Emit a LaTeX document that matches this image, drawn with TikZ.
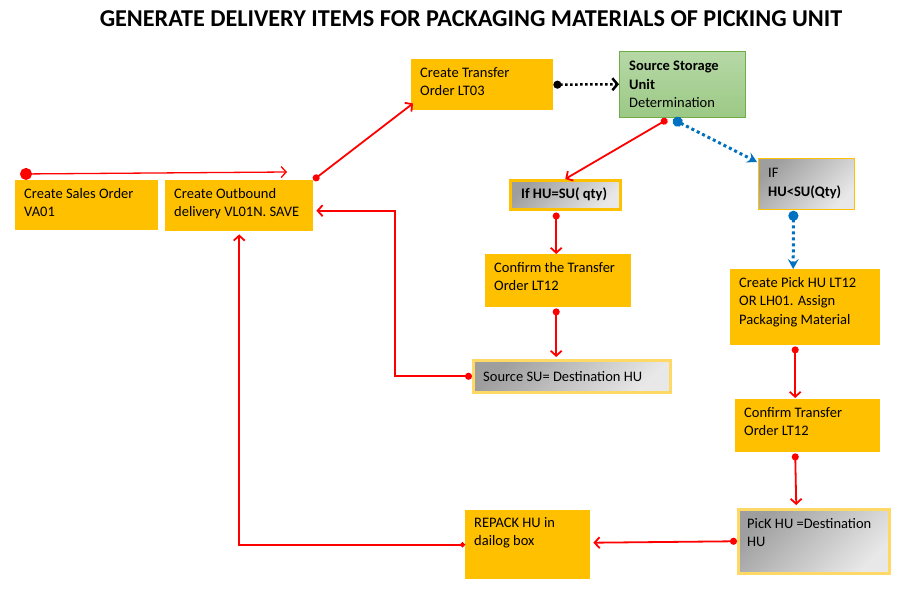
\documentclass[tikz,border=0pt]{standalone}
\usepackage{fontspec}
\setmainfont{Carlito}
\usetikzlibrary{arrows.meta,calc}
\definecolor{boxorange}{HTML}{FFC000}
\definecolor{paleorange}{HTML}{FFD966}
\definecolor{ssuedge}{HTML}{70AD47}
\definecolor{ssutop}{HTML}{B6D8A6}
\definecolor{ssubottom}{HTML}{9CC986}
\definecolor{linkblue}{HTML}{0070C0}

\begin{document}
\begin{tikzpicture}[x=1pt,y=-1pt,
        every node/.style={font=\fontsize{14.5}{18.5}\selectfont},
        stepbox/.style={anchor=north west, inner sep=0pt, fill=boxorange},
        graybox/.style={anchor=north west, inner sep=0pt, top color=black!38, bottom color=black!9, shading angle=45},
        boxtext/.style={anchor=north west, align=left, inner xsep=9pt, inner ysep=8pt},
        redlink/.style={draw=red, line width=1.8pt, {Circle[length=7pt]}-{Straight Barb[length=5pt,width=11pt]}},
        bluelink/.style={draw=linkblue, line width=3pt, dash pattern=on 3pt off 3pt, {Circle[length=10pt]}-{Stealth[length=10pt,width=11pt,inset=4pt]}},
        blacklink/.style={draw=black, line width=2.5pt, dash pattern=on 2.5pt off 2.5pt, {Circle[length=8pt]}-{Straight Barb[length=5pt,width=12pt]}}
    ]
        \useasboundingbox (0,0) rectangle (914,597);

        \node[font=\bfseries\fontsize{24.2}{28}\selectfont] (title) at (471,19) {GENERATE DELIVERY ITEMS FOR PACKAGING MATERIALS OF PICKING UNIT};

        \node[stepbox, minimum width=143pt, minimum height=50pt, label={[boxtext]north west:{Create Sales Order\\VA01}}] (sales) at (15,180) {};
        \node[stepbox, minimum width=148pt, minimum height=51pt, label={[boxtext]north west:{Create Outbound\\delivery VL01N. SAVE}}] (outb) at (165,180) {};
        \node[stepbox, minimum width=142pt, minimum height=51pt, label={[boxtext]north west:{Create Transfer\\Order LT03}}] (xfer) at (411,59) {};

        \node[anchor=north west, inner sep=0pt, draw=ssuedge, top color=ssutop, bottom color=ssubottom, minimum width=126pt, minimum height=66pt,
            label={[boxtext, inner xsep=10pt, inner ysep=10pt]north west:{\textbf{Source Storage}\\\textbf{Unit}\\Determination}}] (ssu) at (619,51) {};

        \node[graybox, draw=boxorange, line width=2.5pt, minimum width=110pt, minimum height=29pt, label={[boxtext, anchor=west, inner xsep=12pt]west:{\textbf{If HU=SU( qty)}}}] (hueq) at (509,179) {};
        \node[graybox, draw=boxorange, line width=0.8pt, minimum width=96pt, minimum height=51pt, label={[boxtext, inner xsep=10pt, inner ysep=10pt]north west:{IF\\\textbf{HU<SU(Qty)}}}] (hult) at (758,158) {};

        \node[stepbox, minimum width=146pt, minimum height=53pt, label={[boxtext]north west:{Confirm the Transfer\\Order LT12}}] (conf1) at (485,254) {};
        \node[graybox, draw=paleorange, line width=2.5pt, minimum width=197pt, minimum height=32pt, label={[boxtext, anchor=west, inner xsep=11pt]west:{Source SU= Destination HU}}] (srcsu) at (472,359) {};

        \node[stepbox, minimum width=150pt, minimum height=76pt, label={[boxtext]north west:{Create Pick HU LT12\\OR LH01. Assign\\Packaging Material}}] (pick) at (730,269) {};
        \node[stepbox, minimum width=145pt, minimum height=53pt, label={[boxtext]north west:{Confirm Transfer\\Order LT12}}] (conf2) at (735,399) {};
        \node[graybox, draw=paleorange, line width=2.5pt, minimum width=151pt, minimum height=64pt, label={[boxtext, inner xsep=10pt, inner ysep=10pt]north west:{PicK HU =Destination\\HU}}] (pickhu) at (737,508) {};
        \node[stepbox, minimum width=125pt, minimum height=69pt, label={[boxtext, inner ysep=7pt]north west:{REPACK HU in\\dailog box}}] (repack) at (465,510) {};

        % links
        \draw[redlink, line width=1.3pt, {Circle[length=12pt]}-{Straight Barb[length=5pt,width=11pt]}] ($(sales.north west)+(5,-6)$) -- ($(outb.north west)+(122,-8)$);
        \draw[redlink] (outb.north east) -- ($(xfer.south west)+(2,-7)$);
        \draw[blacklink] (xfer.east) -- (ssu.west);
        \draw[redlink] ($(ssu.south)+(-15,2)$) -- (hueq.north);
        \draw[bluelink] ($(ssu.south)+(-9,2)$) -- ($(hult.north west)+(-1,4)$);

        \draw[redlink] ($(hueq.south -| conf1.north)+(-2,2)$) -- ($(conf1.north)+(-2,0)$);
        \draw[redlink] ($(conf1.south)+(-2,1)$) -- ($(conf1.south |- srcsu.north)+(-2,-2)$);
        \draw[redlink] (srcsu.west) -- ++(-77,0) |- ($(outb.east)+(3,5)$);

        \draw[bluelink] ($(hult.south)+(-13,1)$) -- ($(pick.north)+(-12,0)$);
        \draw[redlink] ($(pick.south)+(-10,1)$) -- ($(conf2.north)+(-12.5,-1)$);
        \draw[redlink] ($(conf2.south)+(-12.5,1)$) -- ($(pickhu.north)+(-17.5,-3)$);
        \draw[redlink] (pickhu.west) -- ($(repack.east)+(3,-2)$);
        \draw[redlink, {Circle[length=5pt]}-{Straight Barb[length=5pt,width=11pt]}] (repack.west) -| ($(outb.south)+(0,3)$);

    \end{tikzpicture}
\end{document}
